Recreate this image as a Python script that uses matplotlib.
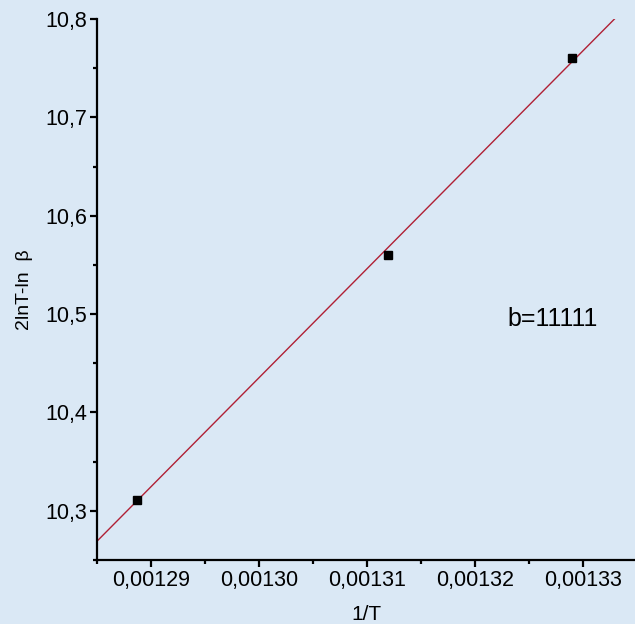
import matplotlib
matplotlib.use("Agg")
import matplotlib.pyplot as plt

# Data
inv_T = [0.0012887, 0.0013119, 0.0013290]
y_vals = [10.3105, 10.5604, 10.7605]
fit_x = [0.0012849, 0.0013329]
fit_y = [10.268, 10.800]
x_ticks = [0.00129, 0.00130, 0.00131, 0.00132, 0.00133]
x_tick_labels = ["0,00129", "0,00130", "0,00131", "0,00132", "0,00133"]
y_ticks = [10.3, 10.4, 10.5, 10.6, 10.7, 10.8]
y_tick_labels = ["10,3", "10,4", "10,5", "10,6", "10,7", "10,8"]
annotation = "b=11111"

plt.rcParams['font.family'] = ['Liberation Sans', 'DejaVu Sans']
bg = "#dae8f5"
fig = plt.figure(figsize=(6.35, 6.24), dpi=100, facecolor=bg)
ax = fig.add_axes([97/635, 1-560/624, 1-97/635, (560-19)/624])
ax.set_facecolor(bg)
ax.patch.set_alpha(0)

ax.plot(fit_x, fit_y, color="#b02035", lw=1.0, zorder=2)
ax.plot(inv_T, y_vals, 's', color='black', ms=6, zorder=3)

ax.set_xlim(0.001285, 0.0013348)
ax.set_ylim(10.25, 10.8)
ax.set_xticks(x_ticks)
ax.set_xticklabels(x_tick_labels)
ax.set_yticks(y_ticks)
ax.set_yticklabels(y_tick_labels)
ax.set_xticks([0.001285, 0.001295, 0.001305, 0.001315, 0.001325], minor=True)
ax.set_yticks([10.25, 10.35, 10.45, 10.55, 10.65, 10.75], minor=True)

for s in ['top', 'right']:
    ax.spines[s].set_visible(False)
for s in ['left', 'bottom']:
    ax.spines[s].set_linewidth(1.6)
ax.tick_params(which='major', direction='out', length=5, width=1.6, labelsize=15.5, pad=2)
ax.tick_params(which='minor', direction='out', length=3, width=1.6)

ax.set_xlabel("1/T", fontsize=15, labelpad=10)
ax.set_ylabel("2lnT-ln  β", fontsize=14, labelpad=9)

fig.text(507/635, 1-326/624, annotation, fontsize=18, va='baseline', ha='left')

fig.savefig("out.png", dpi=100, facecolor=bg)
